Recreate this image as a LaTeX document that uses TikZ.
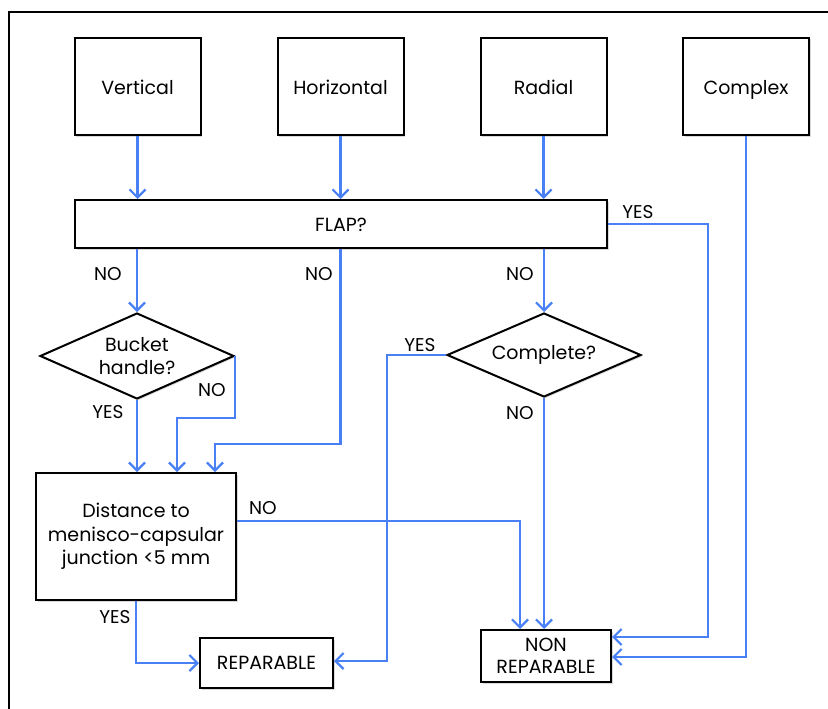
\documentclass[tikz,border=0pt]{standalone}
\usepackage{fontspec}
\setmainfont{Poppins}
\usepackage{tikz}
\usetikzlibrary{arrows.meta, shapes.geometric, positioning, calc, shadows}
\definecolor{flowblue}{RGB}{74,128,245}
\tikzset{
	box/.style={
		draw,
		line width=2pt,
		fill=white,
		align=center,
		inner sep=0pt,
		font=\fontsize{19}{23.5}\selectfont,
		drop shadow={opacity=0.3, shadow xshift=1.5pt, shadow yshift=-1.5pt}
	},
	typebox/.style={
		box,
		minimum width=126,
		minimum height=97,
		text height=19pt,
		text depth=2pt
	},
	decision/.style={
		box,
		diamond,
		aspect=2.3
	},
	arrow/.style={
		-{Straight Barb[length=8pt, width=16pt]},
		flowblue,
		line width=2.2pt
	},
	answer/.style={
		font=\fontsize{18.5}{20}\selectfont
	}
}

\begin{document}
\begin{tikzpicture}[x=1pt, y=-1pt]
		
		\clip (0,0) rectangle (828,709);
		% Cadre
		\draw[line width=1.2pt] (9,720) |- (840,12);
		
		% Types de lesion
		\node[typebox] (VER) at (137.5,86.5) {Vertical};
		\node[typebox] (HOR) at (340.5,86.5) {Horizontal};
		\node[typebox] (RAD) at (543.5,86.5) {Radial};
		\node[typebox] (CPX) at (746,86.5) {Complex};
		
		% Question flap
		\node[box, minimum width=532, minimum height=48, text height=17pt, text depth=3pt] (FLAP) at (341,224) {FLAP?};
		
		% Decisions
		\node[decision, minimum width=194, minimum height=86] (BUCK) at (137,356) {Bucket\\handle?};
		\node[decision, minimum width=194, minimum height=84] (COMP) at (544,355) {Complete?};
		
		% Distance
		\node[box, minimum width=200, minimum height=127] (DIST) at (136,536.5) {Distance to\\menisco-capsular\\junction <5 mm};
		
		% Resultats
		\node[box, minimum width=133, minimum height=50] (REP) at (266.5,663) {REPARABLE};
		\node[box, minimum width=130, minimum height=52, font=\fontsize{19}{22}\selectfont] (NREP) at (546,656) {NON\\REPARABLE};
		
		% Types -> FLAP
		\draw[arrow] (VER.south) -- (VER.south |- FLAP.north);
		\draw[arrow] (HOR.south) -- (HOR.south |- FLAP.north);
		\draw[arrow] (RAD.south) -- (RAD.south |- FLAP.north);
		\draw[arrow] (CPX.south) |- ($(NREP.east)+(0,1)$);
		
		% FLAP -> ...
		\draw[arrow] (FLAP.east) -| (708,400) |- ($(NREP.east)+(0,-19)$);
		\node[answer] (yflap) at (638,212) {YES};
		\draw[arrow] (FLAP.south -| BUCK.north) -- (BUCK.north);
		\node[answer] (nflap1) at (108,274) {NO};
		\draw[arrow] (FLAP.south -| HOR.south) -- ++(0,195) -| ($(DIST.north)+(79,0)$);
		\node[answer] (nflap2) at (319,274) {NO};
		\draw[arrow] (FLAP.south -| COMP.north) -- (COMP.north);
		\node[answer] (nflap3) at (520,274) {NO};
		
		% Bucket handle
		\draw[arrow] (BUCK.south) -- (BUCK.south |- DIST.north);
		\node[answer] (ybuck) at (108,412) {YES};
		\draw[arrow] (BUCK.east) -- ++(0,62) -| ($(DIST.north)+(41,0)$);
		\node[answer] (nbuck) at (212,390) {NO};
		
		% Complete
		\draw[arrow] (COMP.west) -- ++(-59,0) |- ($(REP.east)+(0,-2)$);
		\node[answer] (ycomp) at (420,345) {YES};
		\draw[arrow] (COMP.south) -- (COMP.south |- NREP.north);
		\node[answer] (ncomp) at (520,413) {NO};
		
		% Distance
		\draw[arrow] ($(DIST.east)+(0,-15.5)$) -| ($(NREP.north)+(-26,0)$);
		\node[answer] (ndist) at (263,508) {NO};
		\draw[arrow] (DIST.south) |- (REP.west);
		\node[answer] (ydist) at (115,617) {YES};
		
	\end{tikzpicture}
\end{document}
